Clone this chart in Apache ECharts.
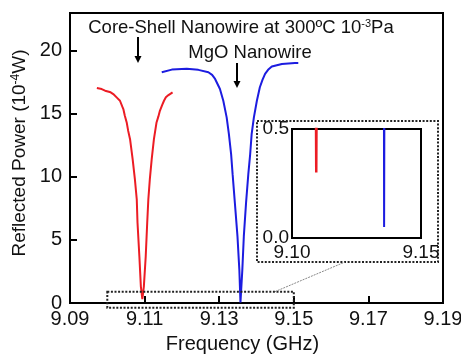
<!DOCTYPE html>
<html>
<head>
<meta charset="utf-8">
<script src="https://cdn.jsdelivr.net/npm/echarts@6/dist/echarts.min.js"></script>
<style>
  html, body { margin: 0; padding: 0; background: #fff; }
  #chart { width: 461px; height: 354px; }
</style>
</head>
<body>
<div id="chart"></div>
<script>
// core-shell nanowire (GHz, 10^-4 W)
var redFreq = [9.0972, 9.0985, 9.0994, 9.1009, 9.1016, 9.1027, 9.1034, 9.1040, 9.1043, 9.1047,
  9.1052, 9.1056, 9.1061, 9.1068, 9.1074, 9.1079, 9.1081, 9.1086, 9.1090, 9.1094,
  9.1098, 9.1103, 9.1107, 9.1110, 9.1114, 9.1119, 9.1125, 9.1132, 9.1137, 9.1141,
  9.1147, 9.1152, 9.1157, 9.1164, 9.1175];
var redPower = [17.05, 16.97, 16.84, 16.71, 16.57, 16.25, 16.04, 15.59, 15.38, 14.85,
  14.32, 13.65, 12.99, 11.39, 9.80, 8.21, 6.37, 3.69, 1.30, 0.30,
  1.30, 3.69, 6.37, 8.21, 9.80, 11.39, 12.99, 14.32, 14.80, 15.24,
  15.70, 16.04, 16.31, 16.49, 16.71];

// MgO nanowire, blue trace
var blueFreq = [9.1146, 9.1173, 9.1213, 9.1244, 9.1271, 9.1281, 9.1289, 9.1302, 9.1311, 9.1320,
  9.1326, 9.1332, 9.1336, 9.1342, 9.1349, 9.1354, 9.1357, 9.1362, 9.1366, 9.1372,
  9.1378, 9.1383, 9.1387, 9.1393, 9.1401, 9.1409, 9.1416, 9.1423, 9.1431, 9.1441,
  9.1468, 9.1503, 9.1512];
var bluePower = [18.30, 18.51, 18.57, 18.49, 18.30, 18.09, 17.77, 16.97, 16.04, 14.72,
  13.39, 11.79, 10.20, 7.94, 5.28, 2.63, 0.05, 2.63, 5.28, 7.94,
  10.20, 11.79, 13.39, 14.72, 16.04, 17.11, 17.69, 18.17, 18.49, 18.75,
  18.96, 19.04, 19.04];

// axis ranges
var xRange = [9.09, 9.19], xStep = 0.02;
var yRange = [0, 23], yStep = 5;
var insetX = [9.10, 9.15];
var insetY = [0, 0.5];
// region marked on the main plot (freq, power)
var zoomFreq = [9.10, 9.15];
var zoomPower = [-0.37, 0.9];

var FONT = "Liberation Sans, Arial, sans-serif";
var RED = "#ec1c24", BLUE = "#1c1ce0";

function pairs(xs, ys) {
  return xs.map(function (x, i) { return [x, ys[i]]; });
}

var myChart = echarts.init(document.getElementById("chart"));

myChart.setOption({
  animation: false,
  backgroundColor: "#fff",
  grid: [
    { left: 70, right: 18, top: 13, bottom: 51, outerBoundsMode: "none", containLabel: false,
      show: true, borderColor: "#000", borderWidth: 2 },
    { left: 292, top: 129, width: 129, height: 109, outerBoundsMode: "none", containLabel: false,
      show: true, borderColor: "#000", borderWidth: 2, backgroundColor: "#fff" }
  ],
  xAxis: [
    {
      type: "value", gridIndex: 0, min: xRange[0], max: xRange[1], interval: xStep,
      name: "Frequency (GHz)", nameLocation: "middle", nameGap: 31,
      nameTextStyle: { fontFamily: FONT, fontSize: 20, color: "#111", padding: [0, 28, 0, 0] },
      axisLine: { lineStyle: { color: "#000", width: 2 } },
      axisTick: { inside: true, length: 7, lineStyle: { color: "#000", width: 2 } },
      axisLabel: {
        fontFamily: FONT, fontSize: 20, color: "#111", margin: 6,
        formatter: function (v) { return v.toFixed(2); }
      },
      splitLine: { show: false }
    },
    {
      type: "value", gridIndex: 1, min: insetX[0], max: insetX[1], interval: 0.05,
      axisLine: { lineStyle: { color: "#000", width: 2 } },
      axisTick: { show: false },
      axisLabel: {
        fontFamily: FONT, fontSize: 19, color: "#111", margin: 5,
        formatter: function (v) { return v.toFixed(2); }
      },
      splitLine: { show: false }
    }
  ],
  yAxis: [
    {
      type: "value", gridIndex: 0, min: yRange[0], max: yRange[1], interval: yStep,
      name: "Reflected Power (10{sup|-4}W)", nameLocation: "middle", nameGap: 41,
      nameTextStyle: {
        fontFamily: FONT, fontSize: 19, color: "#111", padding: [0, 0, 0, 10],
        rich: { sup: { fontFamily: FONT, fontSize: 12, color: "#111", verticalAlign: "top" } }
      },
      axisLine: { lineStyle: { color: "#000", width: 2 } },
      axisTick: { inside: true, length: 7, lineStyle: { color: "#000", width: 2 } },
      axisLabel: {
        fontFamily: FONT, fontSize: 20, color: "#111", margin: 8,
        formatter: function (v) { return v % yStep === 0 ? String(v) : ""; }
      },
      splitLine: { show: false }
    },
    {
      type: "value", gridIndex: 1, min: insetY[0], max: insetY[1], interval: 0.5,
      axisLine: { lineStyle: { color: "#000", width: 2 } },
      axisTick: { show: false },
      axisLabel: {
        fontFamily: FONT, fontSize: 19, color: "#111", margin: 3,
        formatter: function (v) { return v.toFixed(1); }
      },
      splitLine: { show: false }
    }
  ],
  series: [
    {
      name: "Core-Shell", type: "line", xAxisIndex: 0, yAxisIndex: 0, showSymbol: false,
      lineStyle: { color: RED, width: 2 }, data: pairs(redFreq, redPower)
    },
    {
      name: "MgO", type: "line", xAxisIndex: 0, yAxisIndex: 0, showSymbol: false,
      lineStyle: { color: BLUE, width: 2 }, data: pairs(blueFreq, bluePower)
    },
    {
      name: "Core-Shell inset", type: "line", xAxisIndex: 1, yAxisIndex: 1, showSymbol: false, clip: true,
      lineStyle: { color: RED, width: 2.5 }, data: pairs(redFreq, redPower)
    },
    {
      name: "MgO inset", type: "line", xAxisIndex: 1, yAxisIndex: 1, showSymbol: false, clip: true,
      lineStyle: { color: BLUE, width: 2 }, data: pairs(blueFreq, bluePower)
    }
  ]
});

// dotted box around the zoomed region, positioned through the main axes
var p0 = myChart.convertToPixel({ gridIndex: 0 }, [zoomFreq[0], zoomPower[1]]);
var p1 = myChart.convertToPixel({ gridIndex: 0 }, [zoomFreq[1], zoomPower[0]]);

function arrow(x, y1, y2) {
  return [
    { type: "line", shape: { x1: x, y1: y1, x2: x, y2: y2 - 6 }, style: { stroke: "#000", lineWidth: 2 } },
    { type: "polygon", shape: { points: [[x - 3.5, y2 - 7], [x + 3.5, y2 - 7], [x, y2]] }, style: { fill: "#000" } }
  ];
}

var supRich = { sup: { font: "11px " + FONT, fill: "#111", verticalAlign: "top" } };

myChart.setOption({
  graphic: [
    {
      type: "rect", z: 10, silent: true,
      shape: { x: p0[0], y: p0[1], width: p1[0] - p0[0], height: p1[1] - p0[1] },
      style: { fill: null, stroke: "#222", lineWidth: 2, lineDash: [2, 1.6] }
    },
    {
      type: "rect", z: 10, silent: true,
      shape: { x: 257, y: 121, width: 181, height: 141 },
      style: { fill: null, stroke: "#222", lineWidth: 2, lineDash: [2, 1.6] }
    },
    {
      type: "line", z: 10, silent: true,
      shape: { x1: 275, y1: p0[1], x2: 345, y2: 262 },
      style: { stroke: "#888", lineWidth: 1, lineDash: [2, 1] }
    },
    {
      type: "text", z: 10, x: 241, y: 28,
      style: {
        text: "Core-Shell Nanowire at 300ºC 10{sup|-3}Pa", font: "18.5px " + FONT, fill: "#111",
        align: "center", verticalAlign: "middle", rich: supRich
      }
    },
    {
      type: "text", z: 10, x: 250, y: 53,
      style: { text: "MgO Nanowire", font: "18.5px " + FONT, fill: "#111", align: "center", verticalAlign: "middle" }
    }
  ].concat(arrow(138, 37, 63), arrow(237, 63, 88))
});

window.addEventListener("resize", function () {
  myChart.resize();
});
</script>
</body>
</html>
